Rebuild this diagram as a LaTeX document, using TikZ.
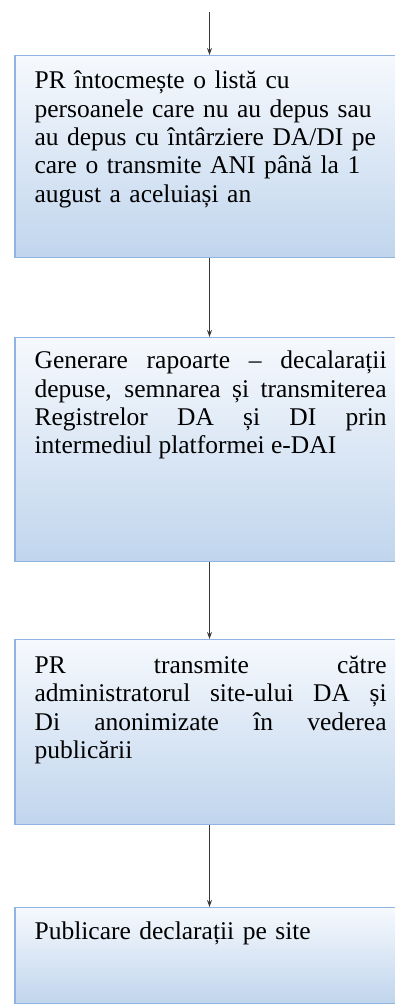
\documentclass[tikz,border=0pt]{standalone}
\usepackage{fontspec}
\setmainfont{Liberation Serif}
\usetikzlibrary{arrows.meta}
\definecolor{boxtop}{RGB}{246,249,253}
\definecolor{boxbottom}{RGB}{192,213,237}
\definecolor{boxline}{RGB}{143,180,224}
\definecolor{arrowgray}{RGB}{55,55,55}
\hbadness=10000
\tikzset{
  stepbox/.style={rectangle, draw=boxline, line width=1.2pt, top color=boxtop,
    bottom color=boxbottom, minimum width=389pt, inner sep=0pt, anchor=north},
  steptext/.style={anchor=north west, inner sep=0pt, text width=352pt,
    font=\fontsize{25.5pt}{28.3pt}\selectfont},
  flow/.style={draw=arrowgray, line width=1.2pt, -{Stealth[length=7pt,width=5pt]}}
}
\begin{document}
\begin{tikzpicture}[x=1pt,y=1pt]
\useasboundingbox (0,0) rectangle (394,-1005);

% boxes
\node[stepbox, minimum height=202pt] (b1) at (209.5,-55) {};
\node[stepbox, minimum height=224pt] (b2) at (209.5,-337) {};
\node[stepbox, minimum height=185pt] (b3) at (209.5,-639) {};
\node[stepbox, minimum height=96pt] (b4) at (209.5,-907) {};

% texts
\node[steptext, align=left] (t1) at ([shift={(20,-16)}]b1.north west)
  {PR întocmește o listă cu\\ persoanele care nu au depus sau\\
   au depus cu întârziere DA/DI pe\\ care o transmite ANI până la 1\\
   august a aceluiași an};
\node[steptext, align=justify] (t2) at ([shift={(20,-14)}]b2.north west)
  {Generare rapoarte – decalarații\linebreak depuse, semnarea și transmiterea\linebreak
   Registrelor DA și DI prin\linebreak intermediul platformei e-DAI};
\node[steptext, align=justify] (t3) at ([shift={(20,-17)}]b3.north west)
  {PR transmite către\linebreak administratorul site-ului DA și\linebreak
   Di anonimizate în vederea\linebreak publicării};
\node[steptext, align=left] (t4) at ([shift={(20,-15)}]b4.north west)
  {Publicare declarații pe site};

% arrows
\coordinate (start) at (209.5,-12);
\draw[flow] (start) -- (b1.north);
\draw[flow] (b1.south) -- (b2.north);
\draw[flow] (b2.south) -- (b3.north);
\draw[flow] (b3.south) -- (b4.north);
\end{tikzpicture}
\end{document}
